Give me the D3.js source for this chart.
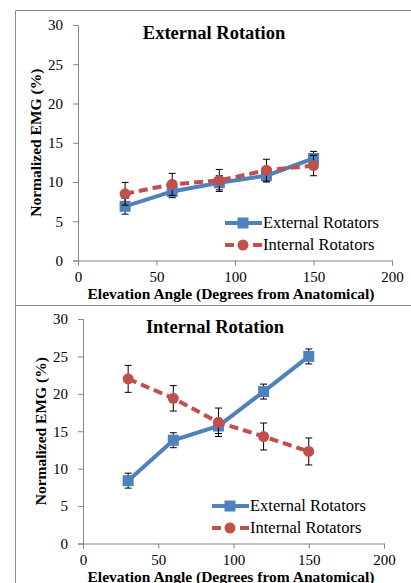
<!DOCTYPE html>
<html>
<head>
<meta charset="utf-8">
<script src="https://cdn.jsdelivr.net/npm/d3@7"></script>
<style>
  body { margin: 0; background: #fff; }
  svg { display: block; font-family: "Liberation Serif", "Times New Roman", serif; }
</style>
</head>
<body>
<svg id="chart" width="411" height="583"></svg>
<script>
// Elevation angles (degrees from anatomical)
const angles = [30, 60, 90, 120, 150];

// External rotation task
const erExternal = [6.9, 8.8, 9.9, 10.8, 13.0];
const erExternalErr = [1.0, 0.8, 0.9, 0.8, 0.9];
const erInternal = [8.5, 9.7, 10.2, 11.5, 12.1];
const erInternalErr = [1.45, 1.4, 1.4, 1.4, 1.3];

// Internal rotation task
const irExternal = [8.4, 13.8, 15.7, 20.3, 25.0];
const irExternalErr = [1.0, 1.0, 1.0, 1.0, 1.0];
const irInternal = [22.0, 19.4, 16.2, 14.3, 12.3];
const irInternalErr = [1.8, 1.7, 1.9, 1.8, 1.8];

const seriesNames = ['External Rotators', 'Internal Rotators'];
const yTicks = [0, 5, 10, 15, 20, 25, 30];
const xTicks = [0, 50, 100, 150, 200];

const colors = { ext: '#4f81bd', int: '#c0504d', axis: '#868686', frame: '#8c8c8c' };

const svg = d3.select('#chart');

// panel frames
svg.append('path')
    .attr('d', 'M15.5,583 L15.5,10.5 L411,10.5 M15.5,305.5 L411,305.5')
    .attr('fill', 'none')
    .attr('stroke', colors.frame)
    .attr('stroke-width', 1);

function drawPanel(cfg) {
    const x = d3.scaleLinear().domain([0, 200]).range([cfg.left, cfg.right]);
    const y = d3.scaleLinear().domain([0, 30]).range([cfg.bottom, cfg.top]);
    const g = svg.append('g');

    // axes
    const yAxis = g.append('g')
        .attr('transform', `translate(${cfg.left},0)`)
        .call(d3.axisLeft(y).tickValues(yTicks).tickSize(5).tickPadding(10));
    const xAxis = g.append('g')
        .attr('transform', `translate(0,${cfg.bottom})`)
        .call(d3.axisBottom(x).tickValues(xTicks).tickSize(5).tickPadding(6));
    [yAxis, xAxis].forEach(a => {
        a.attr('font-family', null).attr('font-size', null);
        a.select('.domain').attr('stroke', colors.axis);
        a.selectAll('.tick line').attr('stroke', colors.axis);
        a.selectAll('.tick text')
            .attr('fill', '#000')
            .style('font-family', '"Liberation Serif", serif')
            .style('font-size', '15px');
    });

    // title
    g.append('text')
        .attr('x', cfg.titleX)
        .attr('y', cfg.top + 13.5)
        .attr('text-anchor', 'middle')
        .attr('font-weight', 'bold')
        .attr('font-size', '18.5px')
        .text(cfg.title);

    // axis labels
    g.append('text')
        .attr('transform', `translate(${cfg.yLabelX},${(cfg.top + cfg.bottom) / 2}) rotate(-90)`)
        .attr('text-anchor', 'middle')
        .attr('font-weight', 'bold')
        .attr('font-size', '15.5px')
        .text('Normalized  EMG (%)');
    g.append('text')
        .attr('x', cfg.xLabelX)
        .attr('y', cfg.bottom + 38)
        .attr('text-anchor', 'middle')
        .attr('font-weight', 'bold')
        .attr('font-size', '15.5px')
        .text('Elevation Angle (Degrees from Anatomical)');

    const series = [
        { vals: cfg.ext, err: cfg.extErr, color: colors.ext, dash: null, marker: 'square' },
        { vals: cfg.int, err: cfg.intErr, color: colors.int, dash: '9,5', marker: 'circle' }
    ];

    const line = d3.line().x(d => x(d[0])).y(d => y(d[1]));

    series.forEach(s => {
        const pts = angles.map((a, i) => [a, s.vals[i], s.err[i]]);

        g.append('path')
            .datum(pts)
            .attr('d', line)
            .attr('fill', 'none')
            .attr('stroke', s.color)
            .attr('stroke-width', 4)
            .attr('stroke-dasharray', s.dash);

        // error bars
        const eb = g.append('g').selectAll('g').data(pts).join('g');
        eb.append('line')
            .attr('x1', d => x(d[0])).attr('x2', d => x(d[0]))
            .attr('y1', d => y(d[1] - d[2])).attr('y2', d => y(d[1] + d[2]))
            .attr('stroke', '#000').attr('stroke-width', 1);
        [-1, 1].forEach(sign => {
            eb.append('line')
                .attr('x1', d => x(d[0]) - 3.5).attr('x2', d => x(d[0]) + 3.5)
                .attr('y1', d => y(d[1] + sign * d[2])).attr('y2', d => y(d[1] + sign * d[2]))
                .attr('stroke', '#000').attr('stroke-width', 1);
        });

        drawMarkers(g, pts.map(d => [x(d[0]), y(d[1])]), s);
    });

    // legend
    series.forEach((s, i) => {
        const ly = cfg.legendY + i * 22;
        g.append('line')
            .attr('x1', cfg.legendX).attr('x2', cfg.legendX + 37)
            .attr('y1', ly).attr('y2', ly)
            .attr('stroke', s.color)
            .attr('stroke-width', 4)
            .attr('stroke-dasharray', s.dash);
        drawMarkers(g, [[cfg.legendX + 18, ly]], s);
        g.append('text')
            .attr('x', cfg.legendX + 38)
            .attr('y', ly + 5)
            .attr('font-size', '16.5px')
            .text(seriesNames[i]);
    });
}

function drawMarkers(g, pts, s) {
    if (s.marker === 'square') {
        g.append('g').selectAll('rect').data(pts).join('rect')
            .attr('x', d => d[0] - 5.5).attr('y', d => d[1] - 5.5)
            .attr('width', 11).attr('height', 11)
            .attr('fill', s.color);
    } else {
        g.append('g').selectAll('circle').data(pts).join('circle')
            .attr('cx', d => d[0]).attr('cy', d => d[1])
            .attr('r', 5.5)
            .attr('fill', s.color);
    }
}

drawPanel({
    title: 'External Rotation', titleX: 214,
    left: 78, right: 392, top: 25, bottom: 260.5,
    yLabelX: 41, xLabelX: 231,
    legendX: 225, legendY: 223,
    ext: erExternal, extErr: erExternalErr, int: erInternal, intErr: erInternalErr
});

drawPanel({
    title: 'Internal Rotation', titleX: 215,
    left: 83, right: 384, top: 319, bottom: 543.5,
    yLabelX: 46, xLabelX: 231,
    legendX: 212, legendY: 506,
    ext: irExternal, extErr: irExternalErr, int: irInternal, intErr: irInternalErr
});
</script>
</body>
</html>
